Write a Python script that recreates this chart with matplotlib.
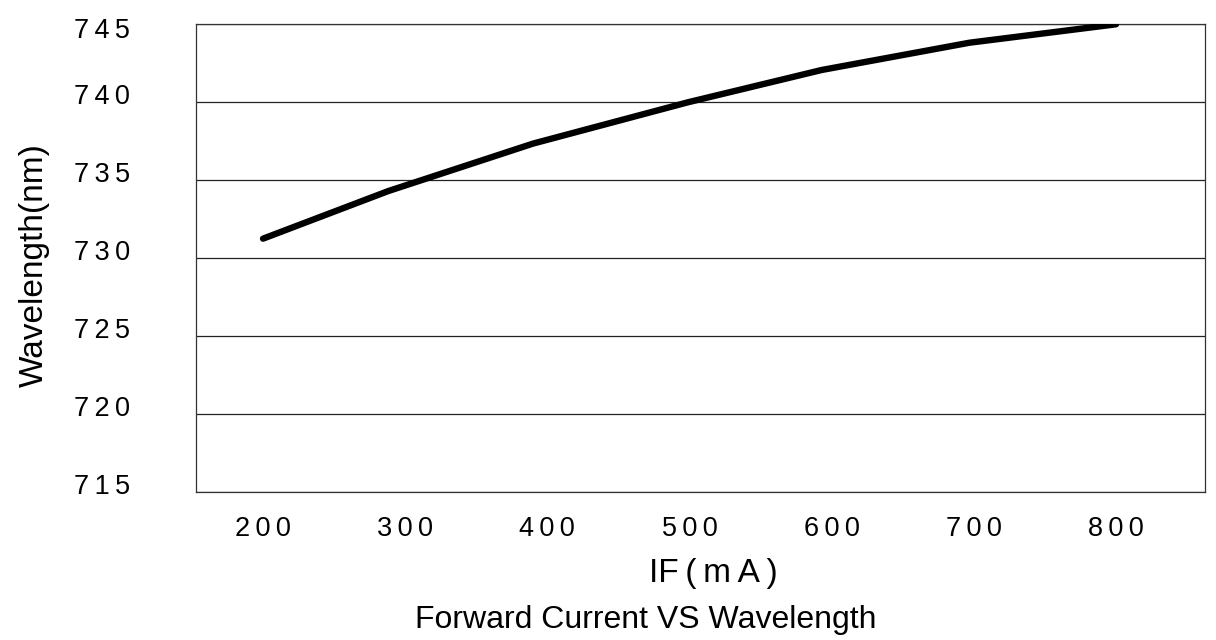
import matplotlib
matplotlib.use('Agg')
import matplotlib.pyplot as plt
import matplotlib.transforms as mtrans

# values
current_ma = [200, 288, 390, 499, 593, 697, 800]
wavelength_nm = [731.25, 734.3, 737.35, 740.0, 742.07, 743.82, 745.0]

xtick_values = [200, 300, 400, 500, 600, 700, 800]
ytick_values = [715, 720, 725, 730, 735, 740, 745]

plt.rcParams['font.family'] = ['Liberation Sans', 'DejaVu Sans']

W, H = 1216, 640
fig = plt.figure(figsize=(W / 100, H / 100), dpi=100)
ax = fig.add_axes([195.5 / W, 1 - 492 / H, (1205 - 195.5) / W, (492 - 24.3) / H])

ax.plot(current_ma, wavelength_nm, color='black', lw=4.6,
        solid_capstyle='round', solid_joinstyle='round', zorder=3)

ax.set_xlim(152.5, 862.6)
ax.set_ylim(715, 745)


def spaced(v):
    # the datasheet prints the numbers with a little letter spacing
    return '\u2009'.join(str(v))


ax.set_xticks(xtick_values)
ax.set_xticklabels([spaced(v) for v in xtick_values])
ax.set_yticks(ytick_values)
ax.set_yticklabels([spaced(v) for v in ytick_values])
ax.tick_params(length=0, labelsize=19.5, colors='black')
ax.tick_params(axis='x', pad=17)
ax.tick_params(axis='y', pad=47)

# y labels sit a bit above their grid lines in the original,
# the top one a little below the frame
for lab in ax.get_yticklabels()[:-1]:
    lab.set_transform(lab.get_transform() +
                      mtrans.ScaledTranslation(0, 0.08, fig.dpi_scale_trans))
top = ax.get_yticklabels()[-1]
top.set_transform(top.get_transform() +
                  mtrans.ScaledTranslation(0, -0.04, fig.dpi_scale_trans))

ax.grid(axis='y', color='#222222', lw=0.9)
for s in ax.spines.values():
    s.set_color('#333333')
    s.set_linewidth(0.9)

ax.set_ylabel('Wavelength(nm)', fontsize=24)
ax.yaxis.set_label_coords(-0.1441, 0.4853)

ax.set_xlabel('IF\u2009(\u2009m\u2009A\u2009)', fontsize=24, va='baseline')
ax.xaxis.set_label_coords(0.5126, -0.1918)

fig.text(646 / W, 1 - 628 / H, 'Forward Current VS Wavelength',
         fontsize=23, ha='center', va='baseline')

fig.savefig('out.png', dpi=100)
